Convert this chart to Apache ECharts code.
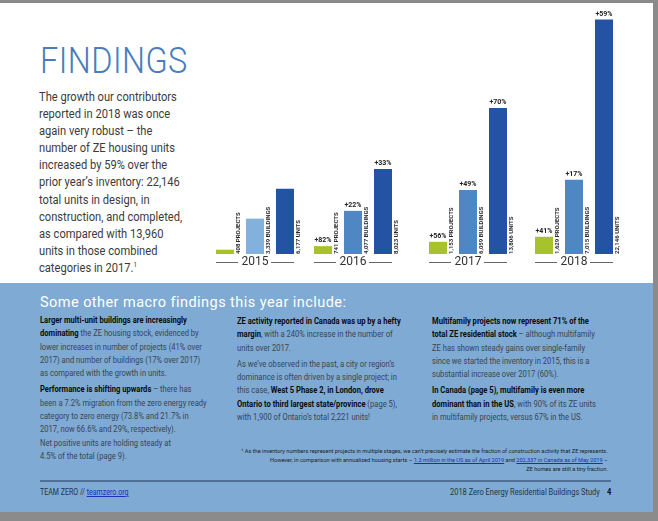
<!DOCTYPE html>
<html><head><meta charset="utf-8">
<script src="https://cdn.jsdelivr.net/npm/echarts@6/dist/echarts.min.js"></script>
<style>
html,body{margin:0;padding:0;width:658px;height:521px;overflow:hidden;background:#8b8b8b;font-family:Roboto,"Noto Sans",sans-serif;}
#page{position:absolute;left:0;top:3px;width:653px;height:280px;background:#fff;}
#panel{position:absolute;left:0;top:283px;width:653px;height:229px;background:#7eaad3;}
#chart{position:absolute;left:0;top:0;width:658px;height:283px;}
.t{position:absolute;white-space:nowrap;transform-origin:0 0;}
#title{left:40px;top:43px;font-size:36px;line-height:36px;font-weight:300;color:#4a7cbd;transform:scaleX(0.9);letter-spacing:0.5px;}
#intro{left:39px;top:88px;font-size:12.5px;line-height:17.1px;color:#3b3b3b;transform:scaleX(0.89);}
#intro sup{font-size:7px;vertical-align:5px;line-height:0;}
#head{left:40px;top:294px;font-size:14.5px;line-height:18px;color:#fff;letter-spacing:0.45px;}
.col{font-size:9.5px;line-height:13.3px;color:#3a4553;transform:scaleX(0.8);}
.col b{color:#0c0c0c;font-weight:700;}
.col .p{margin-bottom:3px;}
#c1{left:40px;top:313px;}
#c2{left:237px;top:314px;}
#c3{left:432px;top:314px;}
#foot{right:50px;top:447px;font-size:5.8px;line-height:9px;color:#222;text-align:right;transform-origin:100% 0;transform:scaleX(0.97);}
#foot a{color:#1b2fb5;text-decoration:underline;}
#rule{position:absolute;left:40px;top:480px;width:571px;height:2px;background:#4f6f96;}
#fl{left:40px;top:486px;font-size:8.5px;line-height:12px;color:#2a3340;transform:scaleX(0.83);}
#fl a{color:#1b2fb5;text-decoration:underline;}
#fr{right:47px;top:486px;font-size:8.5px;line-height:12px;color:#2a3340;transform-origin:100% 0;transform:scaleX(0.88);}
#fr b{margin-left:8px;color:#111;}
</style></head>
<body>
<div id="page"></div>
<div id="panel"></div>
<div class="t" id="title">FINDINGS</div>
<div class="t" id="intro">
<div>The growth our contributors</div>
<div>reported in 2018 was once</div>
<div>again very robust – the</div>
<div>number of ZE housing units</div>
<div>increased by 59% over the</div>
<div>prior year’s inventory: 22,146</div>
<div>total units in design, in</div>
<div>construction, and completed,</div>
<div>as compared with 13,960</div>
<div>units in those combined</div>
<div>categories in 2017.<sup>1</sup></div>
</div>
<div class="t" id="head">Some other macro findings this year include:</div>
<div class="t col" id="c1">
<div class="p">
<div><b>Larger multi-unit buildings are increasingly</b></div>
<div><b>dominating</b> the ZE housing stock, evidenced by</div>
<div>lower increases in number of projects (41% over</div>
<div>2017) and number of buildings (17% over 2017)</div>
<div>as compared with the growth in units.</div>
</div>
<div class="p">
<div><b>Performance is shifting upwards</b> – there has</div>
<div>been a 7.2% migration from the zero energy ready</div>
<div>category to zero energy (73.8% and 21.7% in</div>
<div>2017, now 66.6% and 29%, respectively).</div>
<div>Net positive units are holding steady at</div>
<div>4.5% of the total (page 9).</div>
</div>
</div>
<div class="t col" id="c2">
<div class="p">
<div><b>ZE activity reported in Canada was up by a hefty</b></div>
<div><b>margin</b>, with a 240% increase in the number of</div>
<div>units over 2017.</div>
</div>
<div class="p">
<div>As we’ve observed in the past, a city or region’s</div>
<div>dominance is often driven by a single project; in</div>
<div>this case, <b>West 5 Phase 2, in London, drove</b></div>
<div><b>Ontario to third largest state/province</b> (page 5),</div>
<div>with 1,900 of Ontario’s total 2,221 units!</div>
</div>
</div>
<div class="t col" id="c3">
<div class="p">
<div><b>Multifamily projects now represent 71% of the</b></div>
<div><b>total ZE residential stock</b> – although multifamily</div>
<div>ZE has shown steady gains over single-family</div>
<div>since we started the inventory in 2015, this is a</div>
<div>substantial increase over 2017 (60%).</div>
</div>
<div class="p">
<div><b>In Canada (page 5), multifamily is even more</b></div>
<div><b>dominant than in the US</b>, with 90% of its ZE units</div>
<div>in multifamily projects, versus 67% in the US.</div>
</div>
</div>
<div class="t" id="foot">
<div>¹ As the inventory numbers represent projects in multiple stages, we can’t precisely estimate the fraction of construction activity that ZE represents.</div>
<div>However, in comparison with annualized housing starts – <a>1.3 million in the US as of April 2019</a> and <a>202,337 in Canada as of May 2019</a> –</div>
<div>ZE homes are still a tiny fraction.</div>
</div>
<div id="rule"></div>
<div class="t" id="fl">TEAM ZERO // <a>teamzero.org</a></div>
<div class="t" id="fr">2018 Zero Energy Residential Buildings Study<b>4</b></div>
<div id="chart"></div>
<script>
// ---- data ----
const years = ['2015', '2016', '2017', '2018'];
const metrics = ['PROJECTS', 'BUILDINGS', 'UNITS'];
const projects = [408, 741, 1153, 1629];
const buildings = [3339, 4077, 6059, 7015];
const units = [6177, 8023, 13806, 22146];
const projectGrowth = ['', '+82%', '+56%', '+41%'];
const buildingGrowth = ['', '+22%', '+49%', '+17%'];
const unitGrowth = ['', '+33%', '+70%', '+59%'];

// ---- styles / layout ----
const gridLefts = [210, 308, 423, 529];
const BAR_W = 18;
const colorFor = (yi, mi) => mi === 0 ? '#a8c22c' : (mi === 1 ? (yi === 0 ? '#82b1dc' : '#4e87c4') : '#2553a3');
const fontFam = 'Roboto, "Noto Sans", sans-serif';

const chart = echarts.init(document.getElementById('chart'), null, {renderer: 'canvas'});
const grid = [], xAxis = [], yAxis = [], series = [];
years.forEach((y, i) => {
  grid.push({left: gridLefts[i], top: 0, width: 90, height: 254});
  xAxis.push({
    type: 'category', gridIndex: i, data: metrics, position: 'bottom',
    axisTick: {show: false}, axisLabel: {show: false}, splitLine: {show: false},
    axisLine: {show: false, onZero: false},
    offset: 8,
    name: y, nameLocation: 'middle', nameGap: 0,
    nameTextStyle: {fontSize: 12, color: '#333', verticalAlign: 'middle', fontFamily: fontFam}
  });
  yAxis.push({type: 'value', gridIndex: i, min: 0, max: 24000, show: false, splitLine: {show: false}});
  const vals = [projects[i], buildings[i], units[i]];
  const growth = [projectGrowth[i], buildingGrowth[i], unitGrowth[i]];
  series.push({
    type: 'bar', xAxisIndex: i, yAxisIndex: i, barWidth: BAR_W, barGap: '-100%',
    data: vals.map((v, mi) => ({value: v, itemStyle: {color: colorFor(i, mi)}})),
    label: {
      show: true, position: ['100%', '100%'], rotate: 90, align: 'left', verticalAlign: 'top',
      fontSize: 6, fontWeight: 'bold', color: '#2a2a2a', fontFamily: fontFam, padding: [1, 0, 0, 0],
      formatter: p => p.value.toLocaleString('en-US') + ' ' + metrics[p.dataIndex]
    },
    animation: false, silent: true
  });
  series.push({
    type: 'bar', xAxisIndex: i, yAxisIndex: i, barWidth: BAR_W, barGap: '-100%',
    data: vals,
    itemStyle: {color: 'rgba(0,0,0,0)'},
    label: {
      show: true, position: 'top', distance: 2, fontSize: 7, fontWeight: 'bold', color: '#222', fontFamily: fontFam,
      formatter: p => growth[p.dataIndex]
    },
    animation: false, silent: true
  });
});
chart.setOption({backgroundColor: 'transparent', animation: false, grid, xAxis, yAxis, series});

// decorative rules either side of each year label, derived from the axes' own scales
const graphics = [];
years.forEach((y, i) => {
  const xl = chart.convertToPixel({xAxisIndex: i}, metrics[0]) - BAR_W / 2;
  const xr = chart.convertToPixel({xAxisIndex: i}, metrics[2]) + BAR_W / 2;
  const xc = chart.convertToPixel({xAxisIndex: i}, metrics[1]);
  const yb = chart.convertToPixel({yAxisIndex: i}, 0) + 8.5;
  graphics.push({type: 'line', shape: {x1: xl, y1: yb, x2: xc - 17, y2: yb}, style: {stroke: '#666', lineWidth: 1}, silent: true});
  graphics.push({type: 'line', shape: {x1: xc + 16, y1: yb, x2: xr, y2: yb}, style: {stroke: '#666', lineWidth: 1}, silent: true});
});
chart.setOption({graphic: graphics});
</script>
</body></html>
